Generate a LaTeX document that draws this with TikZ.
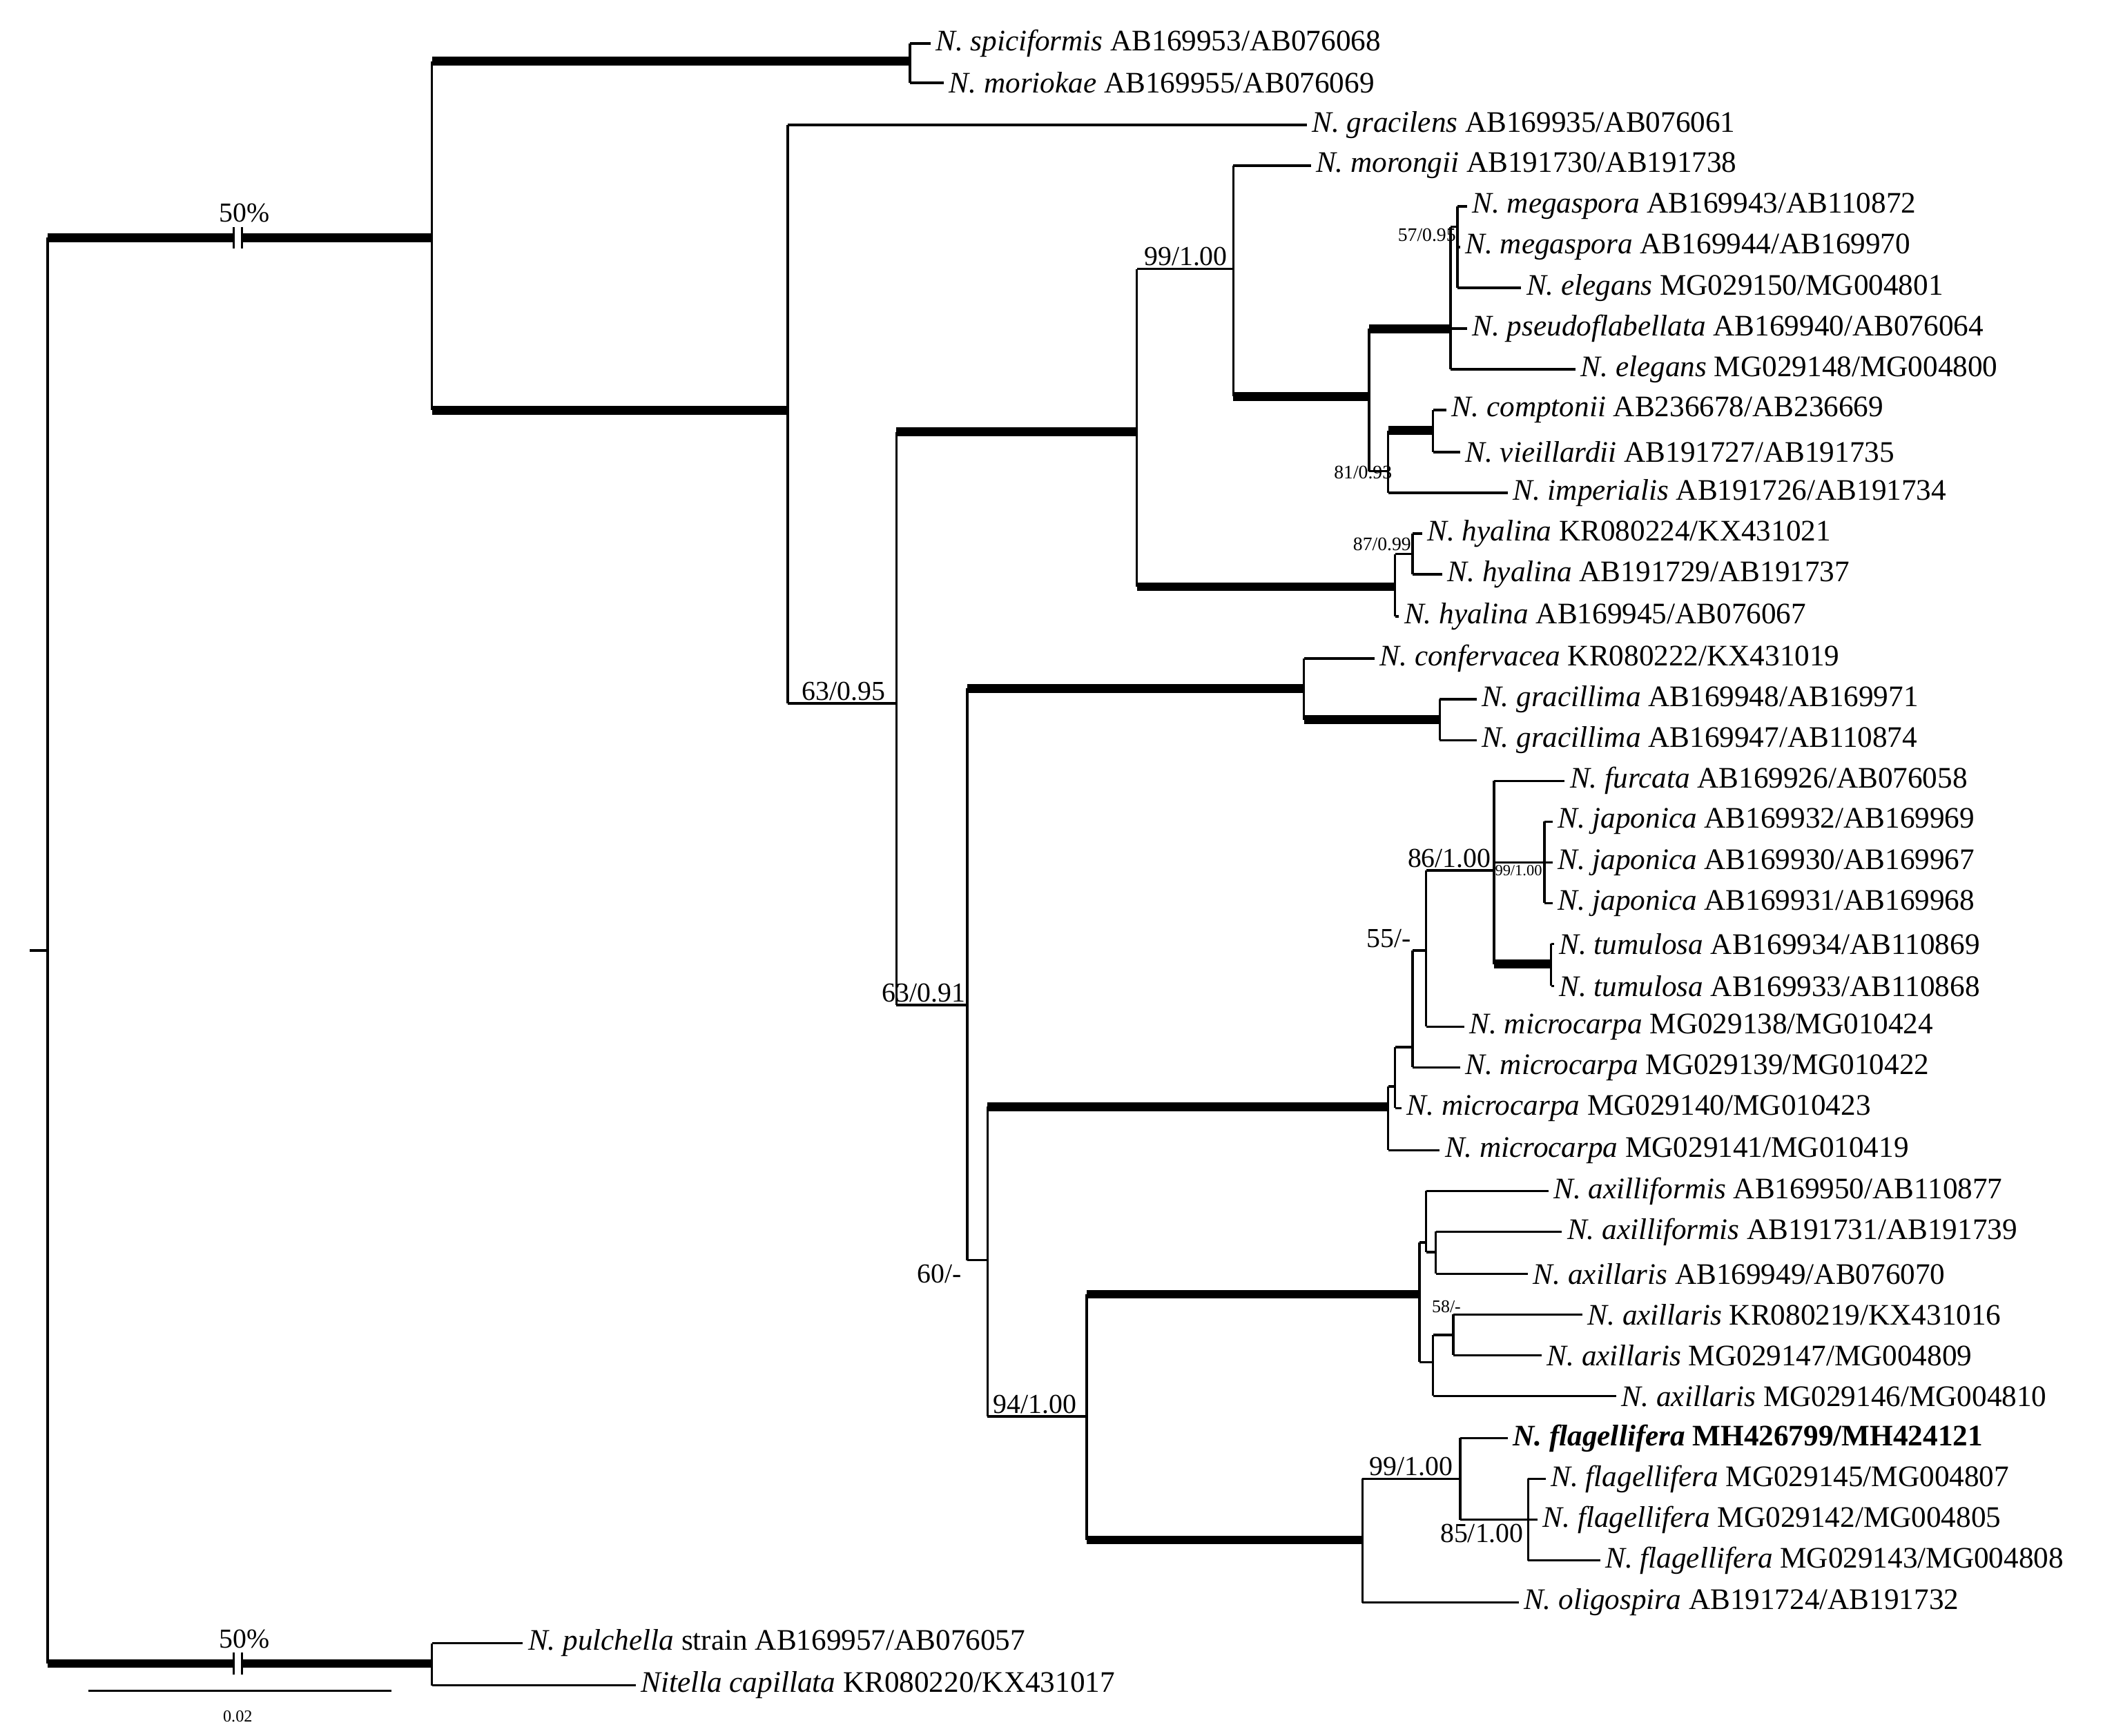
\documentclass[tikz,border=0pt]{standalone}
\usepackage{fontspec}
\setmainfont{Liberation Serif}
\begin{document}
\begin{tikzpicture}[x=0.02cm,y=-0.02cm,
  br/.style={line width=0.035cm},
  tk/.style={line width=0.13cm},
  lab/.style={anchor=west,inner sep=2pt,font=\fontsize{12.5}{14}\selectfont},
  sup/.style={font=\fontsize{11.5}{13}\selectfont,inner sep=1pt},
  ssup/.style={font=\fontsize{6.5}{8}\selectfont,inner sep=0.5pt}]
\useasboundingbox (0,0) rectangle (1563,1278);
\fill[white] (0,0) rectangle (1563,1278);
% helper: leaf
\newcommand{\lv}[5]{\draw[br] (#2,#4) -- (#3,#4) coordinate (#1);\node[lab] at (#1) {#5};}
% root
\draw[br] (22,700) -- (35,700);
\draw[br] (35,175) -- (35,1225);
\draw[tk] (35,175) -- (318,175);
\draw[tk] (35,1225) -- (318,1225);
\foreach \yy in {175,1225}{
  \fill[white] (172,\yy-8) rectangle (178,\yy+8);
  \draw[line width=0.03cm] (172,\yy-8) -- (172,\yy+8) (178,\yy-8) -- (178,\yy+8);
  \node[sup,anchor=south] at (180,\yy-9) {50\%};}
% node A
\draw[br] (318,45) -- (318,302);
\draw[tk] (318,45) -- (670,45);
\draw[br] (670,32) -- (670,61);
\lv{t1}{670}{685}{32}{\textit{N. spiciformis} AB169953/AB076068}
\lv{t2}{670}{695}{61}{\textit{N. moriokae} AB169955/AB076069}
\draw[tk] (318,302) -- (580,302);
% node B
\draw[br] (580,92) -- (580,518);
\lv{t3}{580}{962}{92}{\textit{N. gracilens} AB169935/AB076061}
\draw[br] (580,518) -- (660,518);
\node[sup,anchor=south] at (621,518) {63/0.95};
% node C
\draw[br] (660,318) -- (660,740);
\draw[tk] (660,318) -- (837,318);
\draw[br] (660,740) -- (712,740);
\node[sup,anchor=south] at (680,740) {63/0.91};
% node F
\draw[br] (837,198) -- (837,432);
\draw[br] (837,198) -- (908,198);
\node[sup,anchor=south] at (873,198) {99/1.00};
\draw[tk] (837,432) -- (1027,432);
% node H
\draw[br] (908,122) -- (908,292);
\lv{t4}{908}{965}{122}{\textit{N. morongii} AB191730/AB191738}
\draw[tk] (908,292) -- (1008,292);
% node I
\draw[br] (1008,242) -- (1008,347);
\draw[tk] (1008,242) -- (1068,242);
\draw[br] (1008,347) -- (1022,347);
\node[ssup,anchor=north east,font=\fontsize{8}{9}\selectfont] at (1026,342) {81/0.93};
% node J
\draw[br] (1068,167) -- (1068,272);
\draw[br] (1068,167) -- (1073,167);
\lv{t8}{1068}{1080}{242}{\textit{N. pseudoflabellata} AB169940/AB076064}
\lv{t9}{1068}{1160}{272}{\textit{N. elegans} MG029148/MG004800}
% node L
\draw[br] (1073,152) -- (1073,212);
\node[ssup,anchor=east,font=\fontsize{8}{9}\selectfont] at (1073,173) {57/0.95};
\lv{t5}{1073}{1080}{152}{\textit{N. megaspora} AB169943/AB110872}
\lv{t6}{1073}{1075}{182}{\textit{N. megaspora} AB169944/AB169970}
\lv{t7}{1073}{1120}{212}{\textit{N. elegans} MG029150/MG004801}
% node K
\draw[br] (1022,317) -- (1022,363);
\draw[tk] (1022,317) -- (1055,317);
\lv{t12}{1022}{1110}{363}{\textit{N. imperialis} AB191726/AB191734}
\draw[br] (1055,302) -- (1055,333);
\lv{t10}{1055}{1065}{302}{\textit{N. comptonii} AB236678/AB236669}
\lv{t11}{1055}{1075}{333}{\textit{N. vieillardii} AB191727/AB191735}
% hyalina
\draw[br] (1027,408) -- (1027,454);
\draw[br] (1027,408) -- (1040,408);
\node[ssup,anchor=east,font=\fontsize{8}{9}\selectfont] at (1040,401) {87/0.99};
\lv{t15}{1027}{1030}{454}{\textit{N. hyalina} AB169945/AB076067}
\draw[br] (1040,393) -- (1040,423);
\lv{t13}{1040}{1047}{393}{\textit{N. hyalina} KR080224/KX431021}
\lv{t14}{1040}{1062}{423}{\textit{N. hyalina} AB191729/AB191737}
% node D
\draw[br] (712,507) -- (712,928);
\node[sup,anchor=north east] at (710,929) {60/-};
\draw[tk] (712,507) -- (960,507);
\draw[br] (712,928) -- (727,928);
% gracillima clade
\draw[br] (960,485) -- (960,530);
\lv{t16}{960}{1012}{485}{\textit{N. confervacea} KR080222/KX431019}
\draw[tk] (960,530) -- (1060,530);
\draw[br] (1060,515) -- (1060,545);
\lv{t17}{1060}{1087}{515}{\textit{N. gracillima} AB169948/AB169971}
\lv{t18}{1060}{1087}{545}{\textit{N. gracillima} AB169947/AB110874}
% node E
\draw[br] (727,815) -- (727,1043);
\draw[tk] (727,815) -- (1022,815);
\draw[br] (727,1043) -- (800,1043);
\node[sup,anchor=south] at (762,1043) {94/1.00};
% microcarpa clade
\draw[br] (1022,800) -- (1022,847);
\draw[br] (1022,800) -- (1027,800);
\lv{t28}{1022}{1060}{847}{\textit{N. microcarpa} MG029141/MG010419}
\draw[br] (1027,771) -- (1027,816);
\lv{t27}{1027}{1032}{816}{\textit{N. microcarpa} MG029140/MG010423}
\draw[br] (1027,771) -- (1040,771);
\draw[br] (1040,700) -- (1040,786);
\node[sup,anchor=south east] at (1041,700) {55/-};
\lv{t26}{1040}{1075}{786}{\textit{N. microcarpa} MG029139/MG010422}
\draw[br] (1040,700) -- (1050,700);
\draw[br] (1050,641) -- (1050,756);
\lv{t25}{1050}{1078}{756}{\textit{N. microcarpa} MG029138/MG010424}
\draw[br] (1050,641) -- (1100,641);
\node[sup,anchor=south] at (1067,641) {86/1.00};
\draw[br] (1100,575) -- (1100,710);
\lv{t19}{1100}{1152}{575}{\textit{N. furcata} AB169926/AB076058}
\draw[br] (1100,635) -- (1137,635);
\node[ssup,anchor=north] at (1118,636) {99/1.00};
\draw[br] (1137,605) -- (1137,665);
\lv{t20}{1137}{1143}{605}{\textit{N. japonica} AB169932/AB169969}
\lv{t21}{1137}{1143}{635}{\textit{N. japonica} AB169930/AB169967}
\lv{t22}{1137}{1143}{665}{\textit{N. japonica} AB169931/AB169968}
\draw[tk] (1100,710) -- (1142,710);
\draw[br] (1142,695) -- (1142,726);
\lv{t23}{1142}{1144}{695}{\textit{N. tumulosa} AB169934/AB110869}
\lv{t24}{1142}{1144}{726}{\textit{N. tumulosa} AB169933/AB110868}
% node G
\draw[br] (800,953) -- (800,1134);
\draw[tk] (800,953) -- (1045,953);
\draw[tk] (800,1134) -- (1003,1134);
% axill clade
\draw[br] (1045,915) -- (1045,1003);
\draw[br] (1045,915) -- (1050,915);
\draw[br] (1050,877) -- (1050,922);
\lv{t29}{1050}{1140}{877}{\textit{N. axilliformis} AB169950/AB110877}
\draw[br] (1050,922) -- (1057,922);
\draw[br] (1057,907) -- (1057,938);
\lv{t30}{1057}{1150}{907}{\textit{N. axilliformis} AB191731/AB191739}
\lv{t31}{1057}{1125}{938}{\textit{N. axillaris} AB169949/AB076070}
\draw[br] (1045,1003) -- (1055,1003);
\draw[br] (1055,983) -- (1055,1028);
\node[ssup,anchor=south west,font=\fontsize{7.5}{9}\selectfont] at (1053,968) {58/-};
\draw[br] (1055,983) -- (1070,983);
\draw[br] (1070,968) -- (1070,998);
\lv{t32}{1070}{1165}{968}{\textit{N. axillaris} KR080219/KX431016}
\lv{t33}{1070}{1135}{998}{\textit{N. axillaris} MG029147/MG004809}
\lv{t34}{1055}{1190}{1028}{\textit{N. axillaris} MG029146/MG004810}
% flagellifera clade
\draw[br] (1003,1089) -- (1003,1180);
\draw[br] (1003,1089) -- (1075,1089);
\node[sup,anchor=south] at (1039,1089) {99/1.00};
\lv{t39}{1003}{1118}{1180}{\textit{N. oligospira} AB191724/AB191732}
\draw[br] (1075,1059) -- (1075,1119);
\lv{t35}{1075}{1110}{1059}{\textbf{\textit{N. flagellifera} MH426799/MH424121}}
\draw[br] (1075,1119) -- (1125,1119);
\node[sup,anchor=north] at (1091,1120) {85/1.00};
\draw[br] (1125,1089) -- (1125,1149);
\lv{t36}{1125}{1138}{1089}{\textit{N. flagellifera} MG029145/MG004807}
\lv{t37}{1125}{1132}{1119}{\textit{N. flagellifera} MG029142/MG004805}
\lv{t38}{1125}{1178}{1149}{\textit{N. flagellifera} MG029143/MG004808}
% outgroup
\draw[br] (318,1210) -- (318,1241);
\lv{t40}{318}{385}{1210}{\textit{N. pulchella} strain AB169957/AB076057}
\lv{t41}{318}{468}{1241}{\textit{Nitella capillata} KR080220/KX431017}
% scale bar
\draw[br] (65,1245) coordinate (s1) -- (288,1245) coordinate (s2);
\node[ssup,font=\fontsize{7}{8}\selectfont] at (175,1264) {0.02};
\end{tikzpicture}
\end{document}
